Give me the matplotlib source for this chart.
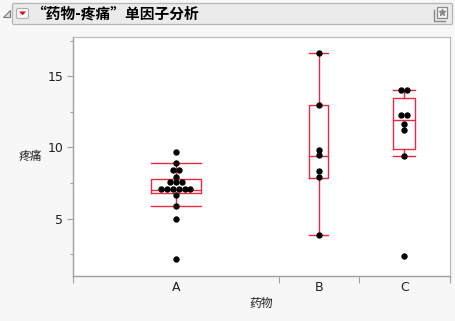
import matplotlib
matplotlib.use("Agg")
import matplotlib.pyplot as plt
from matplotlib.patches import FancyBboxPatch, Polygon, Rectangle
import numpy as np

plt.rcParams['font.family'] = ['Noto Sans CJK SC', 'DejaVu Sans']

# ---- data ----
groups = ["A", "B", "C"]
pain_A = [9.7, 8.9, 8.4, 8.4, 7.95, 7.55, 7.55, 7.55,
          7.1, 7.1, 7.1, 7.1, 7.1, 7.1, 6.7, 5.9, 5.0, 2.15]
pain_B = [16.65, 12.95, 9.85, 9.45, 8.35, 7.9, 3.85]
pain_C = [14.0, 14.0, 12.3, 12.3, 11.65, 11.2, 9.4, 2.4]

# box statistics per group
whisker_lo = [5.9, 3.85, 9.4]
q1 = [6.78, 7.85, 9.86]
median = [7.0, 9.37, 11.9]
q3 = [7.76, 12.95, 13.5]
whisker_hi = [8.9, 16.65, 14.0]

title = "“药物-疼痛”单因子分析"
x_label = "药物"
y_label = "疼痛"

# ---- figure ----
W, H = 455, 321
bg = "#f7f7f7"
red = "#e8293f"
fig = plt.figure(figsize=(W / 100, H / 100), dpi=100, facecolor=bg)

# main plot area (pixel box)
left, right, top, bottom = 73, 450, 36.5, 276
ax = fig.add_axes([left / W, (H - bottom) / H, (right - left) / W, (bottom - top) / H])
ax.set_facecolor("white")

samples = [pain_A, pain_B, pain_C]
counts = np.array([len(s) for s in samples])
edges = np.concatenate([[0], np.cumsum(counts)])
centers = (edges[:-1] + edges[1:]) / 2
widths = 0.245 * counts

ax.set_xlim(edges[0], edges[-1])
ax.set_ylim(0.98, 17.79)

stats = []
for i in range(len(groups)):
    stats.append(dict(med=median[i], q1=q1[i], q3=q3[i],
                      whislo=whisker_lo[i], whishi=whisker_hi[i], fliers=[]))
lp = dict(color=red, linewidth=1.0)
ax.bxp(stats, positions=centers, widths=widths, capwidths=widths,
       showfliers=False, boxprops=lp, whiskerprops=lp, capprops=lp,
       medianprops=lp, manage_ticks=False, zorder=2)

# stacked dots: equal values are laid side by side around the group centre
px_per_unit = (right - left) / edges[-1]
spacing = 5.8 / px_per_unit
for c, vals in zip(centers, samples):
    uniq, cnt = np.unique(vals, return_counts=True)
    for v, k in zip(uniq, cnt):
        offs = (np.arange(k) - (k - 1) / 2) * spacing
        ax.scatter(c + offs, [v] * k, s=21, color="black", zorder=3,
                   linewidths=0)

# axes styling
for side in ["left", "bottom"]:
    ax.spines[side].set_color("#a0a0a0")
    ax.spines[side].set_linewidth(1.0)
for side in ["top", "right"]:
    ax.spines[side].set_color("#b8b8b8")
    ax.spines[side].set_linewidth(0.8)

ax.set_yticks([5, 10, 15])
ax.set_yticks([2.5, 7.5, 12.5, 17.5], minor=True)
ax.tick_params(axis="y", which="major", length=4.5, width=0.8, color="#a0a0a0",
               labelsize=9, pad=2.5, labelcolor="#202020")
ax.tick_params(axis="y", which="minor", length=2.3, width=0.8, color="#a0a0a0")
for t in ax.get_yticklabels():
    t.set_family(["DejaVu Sans"])

ax.set_xticks(edges)
ax.set_xticklabels([""] * len(edges))
ax.set_xticks(centers, minor=True)
ax.set_xticklabels(groups, minor=True)
ax.tick_params(axis="x", which="major", length=4.8, width=0.8, color="#a0a0a0")
ax.tick_params(axis="x", which="minor", length=0, labelsize=9, pad=3.5,
               labelcolor="#202020")
for t in ax.get_xticklabels(minor=True):
    t.set_family(["DejaVu Sans"])

fig.text(30 / W, 1 - 157 / H, y_label, ha="center", va="center", fontsize=8.5,
         color="#202020")
fig.text(261 / W, 1 - 303 / H, x_label, ha="center", va="center", fontsize=8.5,
         color="#202020")

# ---- header bar ----
ov = fig.add_axes([0, 0, 1, 1])
ov.set_xlim(0, W)
ov.set_ylim(H, 0)
ov.axis("off")
ov.patch.set_visible(False)

ov.add_patch(FancyBboxPatch((12.5, 3.5), 440, 21, boxstyle="round,pad=0,rounding_size=1.5",
                            facecolor="#ebebeb", edgecolor="#b5b5b5", linewidth=0.9))
# disclosure triangle
ov.add_patch(Polygon([(3, 17), (10, 17), (10, 10)], closed=True,
                     facecolor="#e0e0e0", edgecolor="#7a7a7a", linewidth=0.8))
# red triangle button
ov.add_patch(FancyBboxPatch((16.5, 8.5), 12, 10, boxstyle="round,pad=0,rounding_size=1.5",
                            facecolor="#f8f8f8", edgecolor="#b0b0b0", linewidth=0.8))
ov.add_patch(Polygon([(19.2, 11.5), (26.0, 11.5), (22.6, 15.3)], closed=True,
                     facecolor="#d9001b", edgecolor="none"))
# small icon at right end
ov.plot([434, 434, 445], [10, 21, 21], color="#8a8a8a", linewidth=1.0)
ov.add_patch(Rectangle((437, 6.5), 10, 11, facecolor="#f4f4f4", edgecolor="#8a8a8a",
                       linewidth=0.9))
ov.plot([442], [12], marker="*", color="#8a8a8a", markersize=5)

ov.text(31, 14.3, title, ha="left", va="center", fontsize=10.6, fontweight="bold",
        color="black")

fig.savefig("out.png", dpi=100, facecolor=bg)
